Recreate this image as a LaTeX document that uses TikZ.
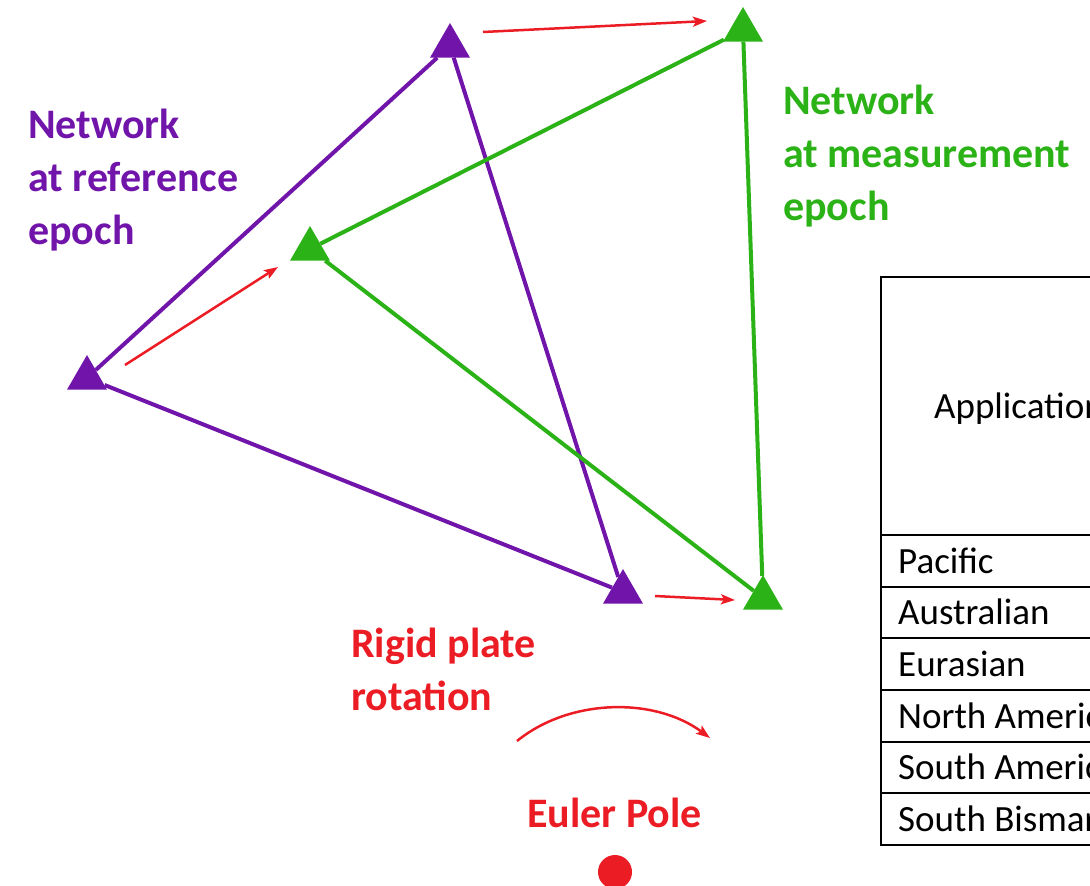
\documentclass[tikz,border=0pt]{standalone}
\usepackage{fontspec}
\setmainfont{Carlito}
\usetikzlibrary{shapes.geometric,arrows.meta}
\definecolor{netpurple}{RGB}{112,20,170}
\definecolor{netgreen}{RGB}{43,178,23}
\definecolor{rotred}{RGB}{236,28,36}
\begin{document}
\begin{tikzpicture}[x=1pt,y=-1pt,
  station/.style={regular polygon, regular polygon sides=3, minimum size=46pt, inner sep=0pt, draw=none},
  refst/.style={station, fill=netpurple},
  measst/.style={station, fill=netgreen},
  refedge/.style={draw=netpurple, line width=4pt},
  measedge/.style={draw=netgreen, line width=4pt},
  motion/.style={draw=rotred, line width=2.5pt, -{Stealth[length=14pt,width=10pt,inset=3pt]}},
  biglabel/.style={font=\fontsize{42}{53}\selectfont\bfseries, align=left, anchor=base west, inner sep=0pt},
  cell/.style={font=\fontsize{37}{44}\selectfont, anchor=base west, inner sep=0pt},
  grid/.style={line width=2pt, draw=black},
]
\useasboundingbox (0,0) rectangle (1090,886);
\clip (0,0) rectangle (1090,886);

% stations
\node[refst] (rt) at (450,46) {};
\node[refst] (rl) at (87,378) {};
\node[refst] (rb) at (623,592) {};
\node[measst] (mt) at (743,30) {};
\node[measst] (ml) at (310,249) {};
\node[measst] (mb) at (763,598) {};

% network edges
\draw[refedge] (rt) -- (rl);
\draw[refedge] (rl) -- (rb);
\draw[refedge] (rt) -- (rb);
\draw[measedge] (mt) -- (ml);
\draw[measedge] (ml) -- (mb);
\draw[measedge] (mt) -- (mb);

% motion arrows
\coordinate (a1s) at (483,32);
\coordinate (a1e) at (707,21);
\coordinate (a2s) at (125,365);
\coordinate (a2e) at (278,267);
\coordinate (a3s) at (655,596);
\coordinate (a3e) at (735,600);
\draw[motion] (a1s) -- (a1e);
\draw[motion] (a2s) -- (a2e);
\draw[motion] (a3s) -- (a3e);

% rotation arc
\coordinate (arcs) at (517,741);
\coordinate (arce) at (710,738);
\draw[motion] (arcs) .. controls (570,698) and (655,697) .. (arce);

% Euler pole
\node[circle, fill=rotred, minimum size=34pt, inner sep=0pt] (pole) at (615,872) {};

% labels (anchored at the baseline of the last line)
\node[biglabel, text=netpurple] (lref) at (28,244) {Network\\at reference\\epoch};
\node[biglabel, text=netgreen] (lmeas) at (783,220) {Network\\at measurement\\epoch};
\node[biglabel, text=rotred] (lrot) at (351,710) {Rigid plate\\rotation};
\node[biglabel, text=rotred] (lpole) at (527,827) {Euler Pole};

% table
\draw[grid] (881,277) rectangle (1200,845);
\foreach \yy in {535,586.7,638.3,690,741.7,793.3}
  \draw[grid] (881,\yy) -- (1200,\yy);
\node[cell] (hdr) at (934,418) {Application};
\node[cell] (c1) at (898,573) {Pacific};
\node[cell] (c2) at (898,624.7) {Australian};
\node[cell] (c3) at (898,676.3) {Eurasian};
\node[cell] (c4) at (898,728) {North America};
\node[cell] (c5) at (898,779.7) {South America};
\node[cell] (c6) at (898,831.3) {South Bismarck};
\end{tikzpicture}
\end{document}
